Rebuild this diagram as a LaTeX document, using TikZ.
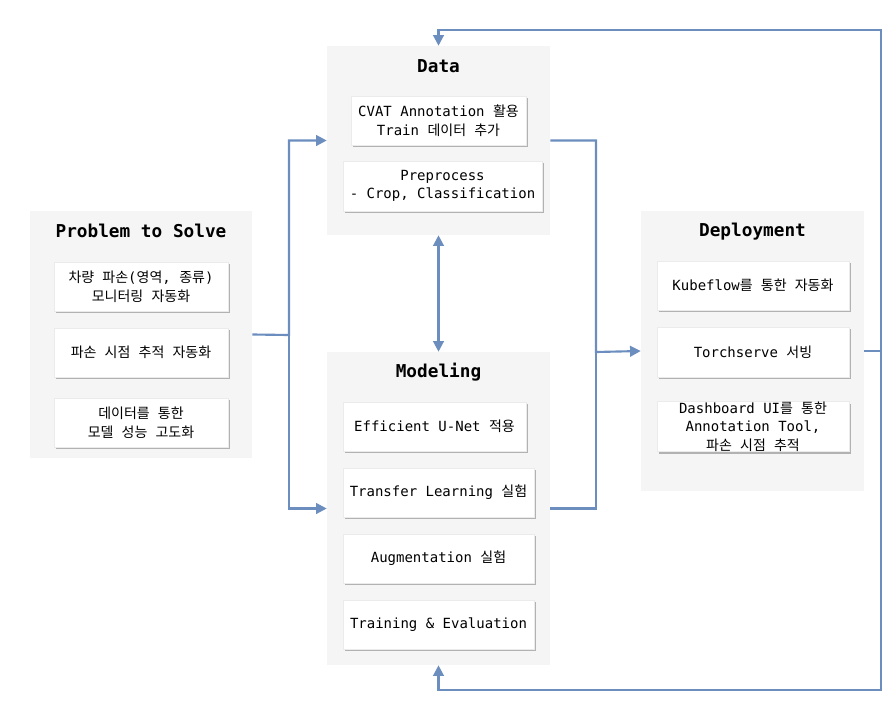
\documentclass[tikz,border=0pt]{standalone}
\usepackage{fontspec}
\setmonofont{DejaVu Sans Mono}
\newfontfamily\kr{Noto Sans CJK KR}[WordSpace=2.6]
\usetikzlibrary{arrows.meta,shadows,positioning}
\definecolor{boxgray}{HTML}{F5F5F5}
\definecolor{flowblue}{HTML}{6C8EBF}
\tikzset{group box/.style={rectangle,fill=boxgray,draw=none,inner sep=0pt},
         item box/.style={rectangle,fill=white,draw=black!8,inner sep=0pt,align=center,
                          minimum height=36.75pt,
                          font=\ttfamily\fontsize{10.5}{14}\selectfont,
                          drop shadow={shadow xshift=1.6pt,shadow yshift=-1.6pt,fill=black!30,opacity=1}},
         group title/.style={font=\ttfamily\bfseries\fontsize{13.3}{16}\selectfont},
         tip/.tip={Triangle[length=8pt,width=8pt,fill=flowblue]},
         line/.style={draw=flowblue,line width=1.6pt},
         flow/.style={line,-tip}
}

\begin{document}
\begin{tikzpicture}[x=0.75pt,y=-0.75pt]
\useasboundingbox (0,0) rectangle (896,700);

% groups
\node [group box, minimum width=166.5pt, minimum height=185.25pt] (prob) at (141,334.5) {};
\node [group box, minimum width=167.25pt, minimum height=141.75pt] (data) at (438.5,140.5) {};
\node [group box, minimum width=167.25pt, minimum height=234.75pt] (model) at (438.5,508.5) {};
\node [group box, minimum width=167.25pt, minimum height=210pt] (dep) at (752.5,351) {};

\node [group title] (probT) at (141,231) {Problem to Solve};
\node [group title] (dataT) at (438.5,66) {Data};
\node [group title] (modelT) at (438.5,372) {Modeling};
\node [group title] (depT) at (752.5,231.5) {Deployment};

% problem to solve
\node [item box, minimum width=130.5pt] (p1) at (141,286.5) {{\kr 차량 파손}({\kr 영역}, {\kr 종류})\\{\kr 모니터링 자동화}};
\node [item box, minimum width=130.5pt] (p2) at (141,352.5) {{\kr 파손 시점 추적 자동화}};
\node [item box, minimum width=130.5pt] (p3) at (141,422.5) {{\kr 데이터를 통한}\\{\kr 모델 성능 고도화}};

% data
\node [item box, minimum width=131.25pt] (d1) at (438.5,120.5) {CVAT Annotation {\kr 활용}\\Train {\kr 데이터 추가}};
\node [item box, minimum width=149.25pt, minimum height=37.5pt] (d2) at (442.5,186) {Preprocess\\- Crop, Classification};

% modeling
\node [item box, minimum width=137.25pt] (m1) at (434.5,426.5) {Efficient U-Net {\kr 적용}};
\node [item box, minimum width=143.25pt] (m2) at (438.5,492.5) {Transfer Learning {\kr 실험}};
\node [item box, minimum width=143.25pt] (m3) at (438.5,558.5) {Augmentation {\kr 실험}};
\node [item box, minimum width=143.25pt] (m4) at (438.5,624.5) {Training \& Evaluation};

% deployment
\node [item box, minimum width=144pt] (k1) at (753,285.5) {Kubeflow{\kr 를 통한 자동화}};
\node [item box, minimum width=144pt, minimum height=37.5pt] (k2) at (753,352) {Torchserve {\kr 서빙}};
\node [item box, minimum width=144pt] (k3) at (753,426.5) {Dashboard UI{\kr 를 통한}\\Annotation Tool,\\{\kr 파손 시점 추적}};

% connectors
\coordinate (split) at (289,335);
\coordinate (merge) at (596,352);
\coordinate (topR) at (881,30);
\coordinate (botR) at (881,690);

\draw [flow] (prob.east) -- (split) |- (data.west);
\draw [flow] (split) |- (model.west);
\draw [flow] (data.east) -| (merge) -- (dep.west);
\draw [line] (model.east) -| (merge);
\draw [line, tip-tip] (data.south) -- (model.north);
\draw [flow] (dep.east) -| (topR) -- (data.north |- topR) -- (data.north);
\draw [flow] (dep.east) -| (botR) -- (model.south |- botR) -- (model.south);
\end{tikzpicture}
\end{document}
